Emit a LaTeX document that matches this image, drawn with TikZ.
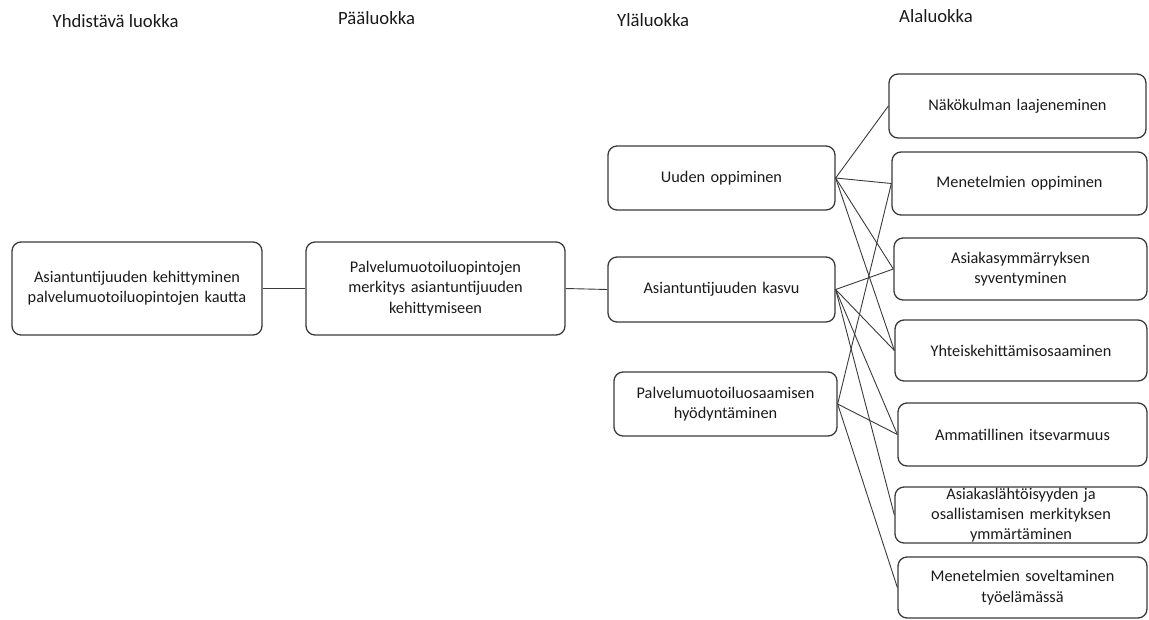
\documentclass[tikz,border=0pt]{standalone}
\usepackage{fontspec}
\setmainfont{Carlito}
\definecolor{edgecol}{HTML}{3A3A3A}
\definecolor{txtcol}{HTML}{1A1A1A}
\tikzset{
  box/.style={draw=edgecol, line width=1.3pt, rounded corners=9pt, inner sep=0pt,
    align=center, text=txtcol, font=\fontsize{16.3}{20.3}\selectfont},
  head/.style={inner sep=0pt, anchor=base west, text=txtcol, font=\fontsize{18.7}{22}\selectfont},
  link/.style={draw=edgecol, line width=0.9pt}
}
\newcommand{\bx}[6]{\node[box, minimum width=#3pt, minimum height=#4pt, text width=#3pt-12pt] (#5) at (#1,#2) {#6};}
\begin{document}
\begin{tikzpicture}[x=1pt,y=-1pt]
\useasboundingbox (0,0) rectangle (1149,619);
% headers
\node[head] (h1) at (52.5,27.7) {Yhdistävä luokka};
\node[head] (h2) at (338,24.3) {Pääluokka};
\node[head] (h3) at (617,26.7) {Yläluokka};
\node[head] (h4) at (899,22.7) {Alaluokka};
% left boxes
\bx{137}{288.5}{250}{93}{b1}{Asiantuntijuuden kehittyminen\\palvelumuotoiluopintojen kautta}
\bx{435.5}{288.5}{259}{93}{b2}{Palvelumuotoiluopintojen\\merkitys asiantuntijuuden\\kehittymiseen}
% upper classes
\bx{721.5}{178}{227}{64}{u}{Uuden oppiminen}
\bx{721.5}{289.5}{227}{65}{k}{Asiantuntijuuden kasvu}
\bx{725.5}{404}{223}{64}{p}{Palvelumuotoiluosaamisen\\hyödyntäminen}
% sub classes
\bx{1017.5}{106}{257}{64}{n}{Näkökulman laajeneminen}
\bx{1019.5}{183.5}{255}{63}{mo}{Menetelmien oppiminen}
\bx{1020.5}{269}{253}{62}{as}{Asiakasymmärryksen\\syventyminen}
\bx{1021}{350.5}{252}{61}{y}{Yhteiskehittämisosaaminen}
\bx{1022.5}{434.5}{249}{63}{am}{Ammatillinen itsevarmuus}
\bx{1021}{515}{252}{56}{al}{Asiakaslähtöisyyden ja\\osallistamisen merkityksen\\ymmärtäminen}
\bx{1022.5}{587.5}{249}{61}{ms}{Menetelmien soveltaminen\\työelämässä}
% connectors
\draw[link] (b1) -- (b2);
\draw[link] (b2.east) -- (k.west);
\draw[link] (u.east) -- (n.west);
\draw[link] (u.east) -- (mo.west);
\draw[link] (u.east) -- (as.west);
\draw[link] (u.east) -- (y.west);
\draw[link] (k.east) -- (as.west);
\draw[link] (k.east) -- (y.west);
\draw[link] (k.east) -- (am.west);
\draw[link] (k.east) -- (al.west);
\draw[link] (p.east) -- (mo.west);
\draw[link] (p.east) -- (am.west);
\draw[link] (p.east) -- (ms.west);
\end{tikzpicture}
\end{document}
